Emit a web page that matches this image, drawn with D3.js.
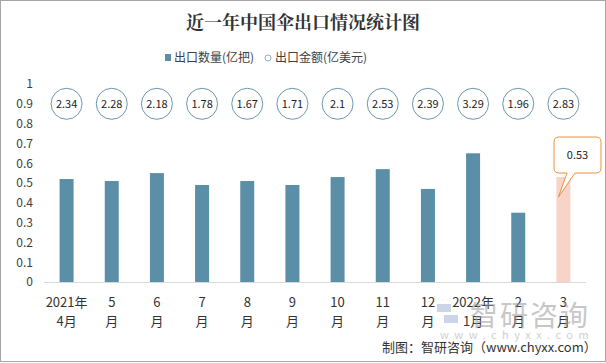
<!DOCTYPE html>
<html>
<head>
<meta charset="utf-8">
<script src="https://cdn.jsdelivr.net/npm/d3@7"></script>
<style>
  body { margin: 0; background: #fff; }
  text { font-family: "Noto Sans CJK SC", "Microsoft YaHei", sans-serif; }
</style>
</head>
<body>
<div id="chart"></div>
<script>
var width = 606,
    height = 363;

// data
var months = [["2021年", "4月"], ["5", "月"], ["6", "月"], ["7", "月"], ["8", "月"], ["9", "月"],
              ["10", "月"], ["11", "月"], ["12", "月"], ["2022年", "1月"], ["2", "月"], ["3", "月"]];
var qty = [0.52, 0.51, 0.55, 0.49, 0.51, 0.49, 0.53, 0.57, 0.47, 0.65, 0.35, 0.53];
var amount = ["2.34", "2.28", "2.18", "1.78", "1.67", "1.71", "2.1", "2.53", "2.39", "3.29", "1.96", "2.83"];
var yTicks = [0, 0.1, 0.2, 0.3, 0.4, 0.5, 0.6, 0.7, 0.8, 0.9, 1];

var svg = d3.select("#chart").append("svg")
    .attr("width", width)
    .attr("height", height);

// outer border
svg.append("rect")
    .attr("x", 0.5).attr("y", 0.5)
    .attr("width", width - 1).attr("height", height - 2)
    .attr("fill", "none")
    .attr("stroke", "#a6a6a6");

var x = d3.scaleBand()
    .domain(d3.range(months.length))
    .range([44, 586]);

var y = d3.scaleLinear()
    .domain([0, 1])
    .range([282, 84]);

// title
svg.append("text")
    .attr("x", 303).attr("y", 29)
    .attr("text-anchor", "middle")
    .attr("font-size", 18)
    .attr("font-weight", "bold")
    .attr("fill", "#333")
    .style("font-family", "'Noto Serif CJK SC', 'Noto Sans CJK SC', serif")
    .text("近一年中国伞出口情况统计图");

// legend
var legend = svg.append("g");
legend.append("rect")
    .attr("x", 165).attr("y", 54)
    .attr("width", 6).attr("height", 7)
    .attr("fill", "#5b8fa8");
legend.append("text")
    .attr("x", 174).attr("y", 62)
    .attr("font-size", 12)
    .attr("fill", "#404040")
    .text("出口数量(亿把)");
legend.append("circle")
    .attr("cx", 268).attr("cy", 58)
    .attr("r", 3)
    .attr("fill", "#fff")
    .attr("stroke", "#8fb0c2");
legend.append("text")
    .attr("x", 275).attr("y", 62)
    .attr("font-size", 12)
    .attr("fill", "#404040")
    .text("出口金额(亿美元)");

// y axis labels
var yAxis = svg.append("g")
    .attr("transform", "translate(33,0)")
    .call(d3.axisLeft(y).tickValues(yTicks).tickSize(0).tickPadding(0)
        .tickFormat(function (d) { return d3.format("~g")(d); }));
yAxis.select(".domain").remove();
yAxis.selectAll("text")
    .attr("font-size", 12)
    .attr("fill", "#404040")
    .style("font-family", "'Noto Sans CJK SC', sans-serif");

// bars
svg.selectAll(".bar")
    .data(qty)
    .enter()
    .append("rect")
    .attr("class", "bar")
    .attr("x", function (d, i) { return x(i) + x.bandwidth() / 2 - 7; })
    .attr("y", function (d) { return y(d); })
    .attr("width", 14)
    .attr("height", function (d) { return y(0) - y(d); })
    .attr("fill", function (d, i) { return i == qty.length - 1 ? "#f8d3c8" : "#5b8fa8"; });

// baseline
svg.append("line")
    .attr("x1", 44).attr("x2", 586)
    .attr("y1", y(0) + 0.5).attr("y2", y(0) + 0.5)
    .attr("stroke", "#d9d9d9");

// amount circles
var circ = svg.selectAll(".amt")
    .data(amount)
    .enter()
    .append("g")
    .attr("class", "amt")
    .attr("transform", function (d, i) { return "translate(" + (x(i) + x.bandwidth() / 2) + "," + y(0.9) + ")"; });
circ.append("circle")
    .attr("r", 15.5)
    .attr("fill", "#fff")
    .attr("stroke", "#6b97ad")
    .attr("stroke-width", 1);
circ.append("text")
    .attr("text-anchor", "middle")
    .attr("dy", "0.36em")
    .attr("font-size", 11)
    .attr("fill", "#222")
    .text(function (d) { return d; });

// x labels
var xl = svg.selectAll(".xl")
    .data(months)
    .enter()
    .append("text")
    .attr("class", "xl")
    .attr("text-anchor", "middle")
    .attr("font-size", 13)
    .attr("fill", "#333");
xl.append("tspan")
    .attr("x", function (d, i) { return x(i) + x.bandwidth() / 2; })
    .attr("y", 307)
    .text(function (d) { return d[0]; });
xl.append("tspan")
    .attr("x", function (d, i) { return x(i) + x.bandwidth() / 2; })
    .attr("y", 326)
    .text(function (d) { return d[1]; });

// callout for last bar
var last = qty.length - 1;
var cx = x(last) + x.bandwidth() / 2;
var bx0 = 554, bx1 = 601, by0 = 137, by1 = 173, r = 5;
var path = d3.path();
path.moveTo(bx0 + r, by0);
path.lineTo(bx1 - r, by0);
path.quadraticCurveTo(bx1, by0, bx1, by0 + r);
path.lineTo(bx1, by1 - r);
path.quadraticCurveTo(bx1, by1, bx1 - r, by1);
path.lineTo(575, by1);
path.lineTo(cx - 5, y(qty[last]) + 20);
path.lineTo(567, by1);
path.lineTo(bx0 + r, by1);
path.quadraticCurveTo(bx0, by1, bx0, by1 - r);
path.lineTo(bx0, by0 + r);
path.quadraticCurveTo(bx0, by0, bx0 + r, by0);
path.closePath();
svg.append("path")
    .attr("d", path.toString())
    .attr("fill", "#fff")
    .attr("stroke", "#e8943a")
    .attr("stroke-width", 1);
svg.append("text")
    .attr("x", (bx0 + bx1) / 2).attr("y", 159)
    .attr("text-anchor", "middle")
    .attr("font-size", 11)
    .attr("fill", "#222")
    .text(d3.format(".2f")(qty[last]));

// watermark
var wm = svg.append("g").attr("opacity", 0.55);
wm.append("rect").attr("x", 437).attr("y", 304).attr("width", 14).attr("height", 8).attr("fill", "#9fb6d6");
wm.append("rect").attr("x", 444).attr("y", 315).attr("width", 14).attr("height", 8).attr("fill", "#9fb6d6");
wm.append("text")
    .attr("x", 470).attr("y", 326)
    .attr("font-size", 28)
    .attr("fill", "#9a9a9a")
    .attr("letter-spacing", 2)
    .text("智研咨询");
wm.append("text")
    .attr("x", 440).attr("y", 339)
    .attr("font-size", 11)
    .attr("fill", "#aaa")
    .attr("letter-spacing", 5.5)
    .text("www.chyxx.com");

// source
svg.append("text")
    .attr("x", 382).attr("y", 352)
    .attr("font-size", 13)
    .attr("fill", "#333")
    .text("制图：智研咨询（www.chyxx.com）");
</script>
</body>
</html>
